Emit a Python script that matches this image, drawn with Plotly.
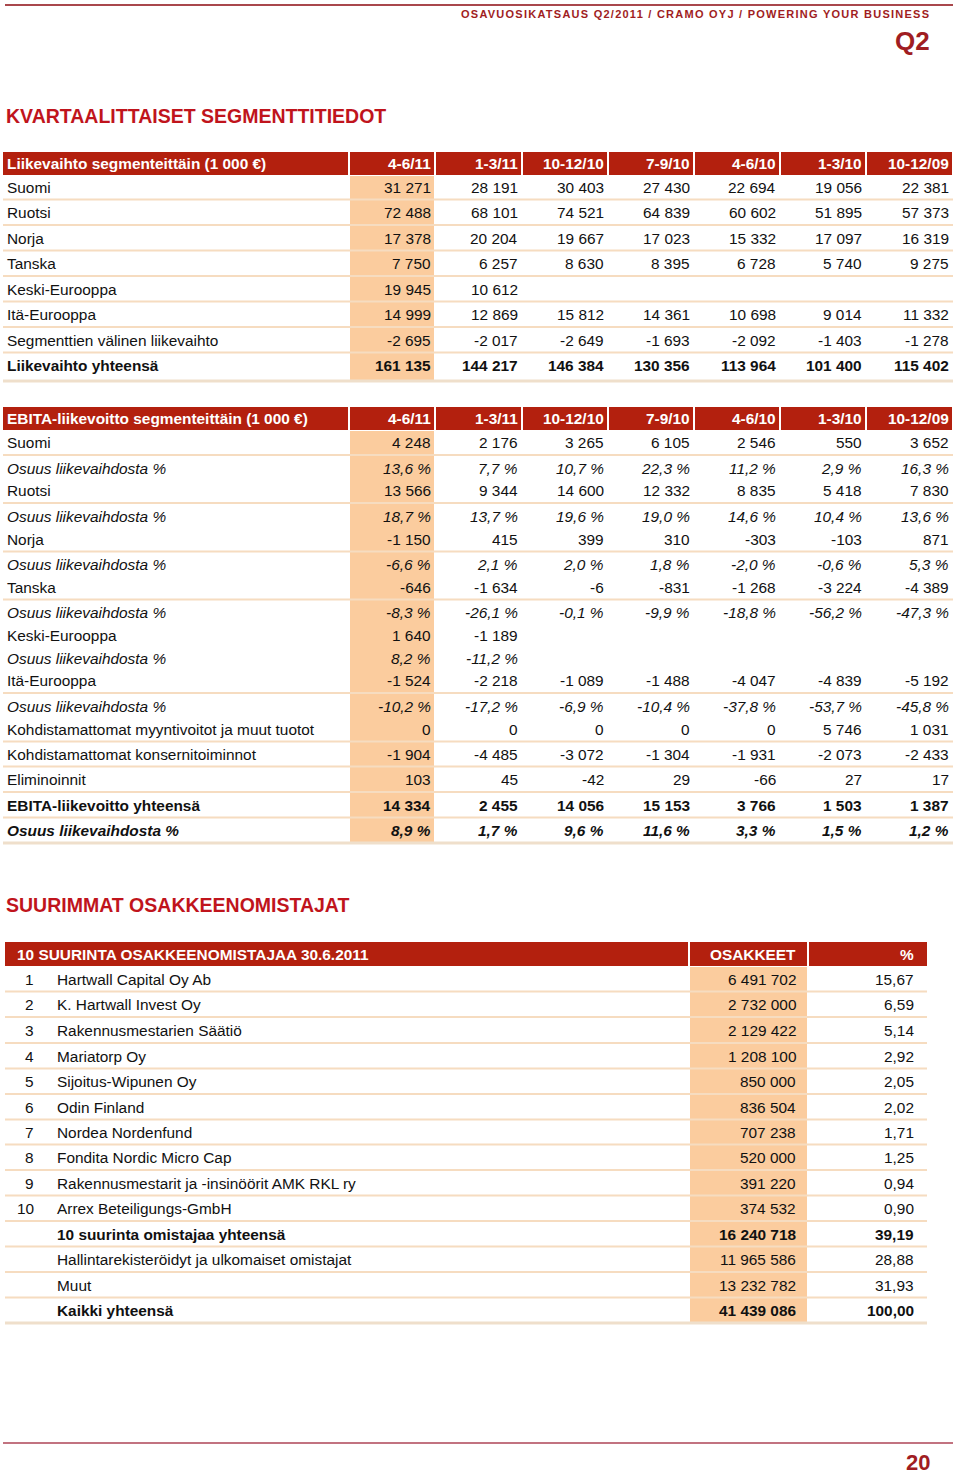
import plotly.graph_objects as go

# ---------------- DATA ----------------
doc_header = "OSAVUOSIKATSAUS Q2/2011 / CRAMO OYJ / POWERING YOUR BUSINESS"
doc_quarter = "Q2"
page_number = "20"
title_segments = "KVARTAALITTAISET SEGMENTTITIEDOT"
title_owners = "SUURIMMAT OSAKKEENOMISTAJAT"

periods = ["4-6/11", "1-3/11", "10-12/10", "7-9/10", "4-6/10", "1-3/10", "10-12/09"]

sales_title = "Liikevaihto segmenteittäin (1 000 €)"
sales_labels = ["Suomi", "Ruotsi", "Norja", "Tanska", "Keski-Eurooppa", "Itä-Eurooppa",
                "Segmenttien välinen liikevaihto", "Liikevaihto yhteensä"]
sales_suomi = [31271, 28191, 30403, 27430, 22694, 19056, 22381]
sales_ruotsi = [72488, 68101, 74521, 64839, 60602, 51895, 57373]
sales_norja = [17378, 20204, 19667, 17023, 15332, 17097, 16319]
sales_tanska = [7750, 6257, 8630, 8395, 6728, 5740, 9275]
sales_keski = [19945, 10612, None, None, None, None, None]
sales_ita = [14999, 12869, 15812, 14361, 10698, 9014, 11332]
sales_inter = [-2695, -2017, -2649, -1693, -2092, -1403, -1278]
sales_total = [161135, 144217, 146384, 130356, 113964, 101400, 115402]

ebita_title = "EBITA-liikevoitto segmenteittäin (1 000 €)"
ebita_labels = ["Suomi", "Osuus liikevaihdosta %", "Ruotsi", "Osuus liikevaihdosta %",
                "Norja", "Osuus liikevaihdosta %", "Tanska", "Osuus liikevaihdosta %",
                "Keski-Eurooppa", "Osuus liikevaihdosta %", "Itä-Eurooppa", "Osuus liikevaihdosta %",
                "Kohdistamattomat myyntivoitot ja muut tuotot", "Kohdistamattomat konsernitoiminnot",
                "Eliminoinnit", "EBITA-liikevoitto yhteensä", "Osuus liikevaihdosta %"]
ebita_suomi = [4248, 2176, 3265, 6105, 2546, 550, 3652]
pct_suomi = [13.6, 7.7, 10.7, 22.3, 11.2, 2.9, 16.3]
ebita_ruotsi = [13566, 9344, 14600, 12332, 8835, 5418, 7830]
pct_ruotsi = [18.7, 13.7, 19.6, 19.0, 14.6, 10.4, 13.6]
ebita_norja = [-1150, 415, 399, 310, -303, -103, 871]
pct_norja = [-6.6, 2.1, 2.0, 1.8, -2.0, -0.6, 5.3]
ebita_tanska = [-646, -1634, -6, -831, -1268, -3224, -4389]
pct_tanska = [-8.3, -26.1, -0.1, -9.9, -18.8, -56.2, -47.3]
ebita_keski = [1640, -1189, None, None, None, None, None]
pct_keski = [8.2, -11.2, None, None, None, None, None]
ebita_ita = [-1524, -2218, -1089, -1488, -4047, -4839, -5192]
pct_ita = [-10.2, -17.2, -6.9, -10.4, -37.8, -53.7, -45.8]
ebita_unalloc_gains = [0, 0, 0, 0, 0, 5746, 1031]
ebita_group = [-1904, -4485, -3072, -1304, -1931, -2073, -2433]
ebita_elim = [103, 45, -42, 29, -66, 27, 17]
ebita_total = [14334, 2455, 14056, 15153, 3766, 1503, 1387]
pct_total = [8.9, 1.7, 9.6, 11.6, 3.3, 1.5, 1.2]

owners_title = "10 SUURINTA OSAKKEENOMISTAJAA 30.6.2011"
owners_col_shares = "OSAKKEET"
owners_col_pct = "%"
owner_ranks = ["1", "2", "3", "4", "5", "6", "7", "8", "9", "10", "", "", "", ""]
owner_names = ["Hartwall Capital Oy Ab", "K. Hartwall Invest Oy", "Rakennusmestarien Säätiö",
               "Mariatorp Oy", "Sijoitus-Wipunen Oy", "Odin Finland", "Nordea Nordenfund",
               "Fondita Nordic Micro Cap", "Rakennusmestarit ja -insinöörit AMK RKL ry",
               "Arrex Beteiligungs-GmbH", "10 suurinta omistajaa yhteensä",
               "Hallintarekisteröidyt ja ulkomaiset omistajat", "Muut", "Kaikki yhteensä"]
owner_shares = [6491702, 2732000, 2129422, 1208100, 850000, 836504, 707238, 520000,
                391220, 374532, 16240718, 11965586, 13232782, 41439086]
owner_pct = [15.67, 6.59, 5.14, 2.92, 2.05, 2.02, 1.71, 1.25, 0.94, 0.90,
             39.19, 28.88, 31.93, 100.00]

# ---------------- STYLE / LAYOUT ----------------
FONT = "Liberation Sans, Arial, sans-serif"
RED_HDR = "#b3200e"
PEACH = "#fbcc9e"
LINE = "#f6dcc0"
TITLE_RED = "#c0141c"
DARK_RED = "#a01d22"
TXT = "#111111"
FS = 15.4

fig = go.Figure()
shapes = []
annotations = []


def fmt_int(v):
    if v is None:
        return ""
    return f"{v:,}".replace(",", " ")


def fmt_pct(v):
    if v is None:
        return ""
    return f"{v:.1f}".replace(".", ",") + " %"


def fmt_dec2(v):
    return f"{v:.2f}".replace(".", ",")


def rect(x0, y0, x1, y1, color):
    shapes.append(dict(type="rect", xref="x", yref="y", x0=x0, y0=y0, x1=x1, y1=y1,
                       fillcolor=color, line=dict(width=0), layer="below"))


def hline(x0, x1, y, color, w=2):
    shapes.append(dict(type="line", xref="x", yref="y", x0=x0, x1=x1, y0=y, y1=y,
                       line=dict(color=color, width=w), layer="below"))


def text(x, y, s, anchor="left", size=FS, color=TXT, bold=False, italic=False):
    if s == "":
        return
    if italic:
        s = f"<i>{s}</i>"
    if bold:
        s = f"<b>{s}</b>"
    annotations.append(dict(x=x, y=y, xref="x", yref="y", text=s, showarrow=False,
                            xanchor=anchor, yanchor="middle", borderpad=0,
                            font=dict(family=FONT, size=size, color=color)))


# page frame
hline(5, 953, 5, "#a9474c", 2)
hline(3, 953, 1443, "#c27380", 2)
text(931, 14, f'<span style="letter-spacing:1.25px">{doc_header}</span>', "right", 11, DARK_RED, bold=True)
text(931, 41, doc_quarter, "right", 26, DARK_RED, bold=True)
text(931, 1462, page_number, "right", 22, DARK_RED, bold=True)

# section titles
text(5, 116, title_segments, "left", 19.5, TITLE_RED, bold=True)
text(5, 905, title_owners, "left", 19.5, TITLE_RED, bold=True)

# ---- segment tables geometry
col_edges = [349, 435, 522, 608, 694, 780, 866, 953]
tx0 = 3


def segment_table(hdr_top, hdr_bot, title, labels, rows, row_y, line_after, bottom_y,
                  styles):
    # header
    rect(tx0, hdr_top, col_edges[0] - 1, hdr_bot, RED_HDR)
    for i in range(len(periods)):
        rect(col_edges[i] + 1, hdr_top, col_edges[i + 1] - 1, hdr_bot, RED_HDR)
    hy = (hdr_top + hdr_bot) / 2
    text(tx0 + 3, hy, title, "left", FS, "white", bold=True)
    for i, p in enumerate(periods):
        text(col_edges[i + 1] - 3, hy, p, "right", FS, "white", bold=True)
    # highlighted first column
    rect(col_edges[0] + 1, hdr_bot + 1, col_edges[1] - 1, bottom_y, PEACH)
    # separators
    for i in line_after:
        ymid = (row_y[i] + row_y[i + 1]) / 2
        hline(tx0, col_edges[-1], ymid, LINE, 2)
    hline(tx0, col_edges[-1], bottom_y, "#efdfcb", 3)
    # rows
    for r, (lab, vals, st) in enumerate(zip(labels, rows, styles)):
        kind, bold, italic = st
        text(tx0 + 3, row_y[r], lab, "left", FS, TXT, bold, italic)
        for i, v in enumerate(vals):
            s = fmt_pct(v) if kind == "pct" else fmt_int(v)
            text(col_edges[i + 1] - 3, row_y[r], s, "right", FS, TXT, bold, italic)


sales_rows = [sales_suomi, sales_ruotsi, sales_norja, sales_tanska, sales_keski,
              sales_ita, sales_inter, sales_total]
sales_y = [187, 212, 238, 263, 289, 314, 340, 365]
sales_styles = [("int", False, False)] * 7 + [("int", True, False)]
segment_table(152, 175, sales_title, sales_labels, sales_rows, sales_y,
              list(range(7)), 381, sales_styles)

ebita_rows = [ebita_suomi, pct_suomi, ebita_ruotsi, pct_ruotsi, ebita_norja, pct_norja,
              ebita_tanska, pct_tanska, ebita_keski, pct_keski, ebita_ita, pct_ita,
              ebita_unalloc_gains, ebita_group, ebita_elim, ebita_total, pct_total]
ebita_y = [442, 468, 490, 516, 539, 564, 587, 612, 635, 658, 680, 706, 729, 754, 779, 805, 830]
ebita_styles = []
for lab, rows_ in zip(ebita_labels, ebita_rows):
    ebita_styles.append(("pct", False, True) if lab.startswith("Osuus") else ("int", False, False))
ebita_styles[15] = ("int", True, False)
ebita_styles[16] = ("pct", True, True)
ebita_lines = [i for i in range(len(ebita_y) - 1) if ebita_y[i + 1] - ebita_y[i] >= 25]
segment_table(407, 430, ebita_title, ebita_labels, ebita_rows, ebita_y,
              ebita_lines, 843, ebita_styles)

# ---- owners table
ox0, ox_shares0, ox_shares1, ox_pct1 = 5, 689, 808, 927
rect(ox0, 942, ox_shares0 - 1, 966, RED_HDR)
rect(ox_shares0 + 1, 942, ox_shares1 - 1, 966, RED_HDR)
rect(ox_shares1 + 1, 942, ox_pct1, 966, RED_HDR)
text(16, 954, owners_title, "left", FS, "white", bold=True)
text(797, 954, owners_col_shares, "right", FS, "white", bold=True)
text(915, 954, owners_col_pct, "right", FS, "white", bold=True)
owner_y = [979, 1004, 1030, 1056, 1081, 1107, 1132, 1157, 1183, 1208, 1234, 1259, 1285, 1310]
rect(ox_shares0 + 1, 967, ox_shares1 - 1, 1322, PEACH)
for i in range(len(owner_y) - 1):
    hline(ox0, ox_pct1, (owner_y[i] + owner_y[i + 1]) / 2, LINE, 2)
hline(ox0, ox_pct1, 1323, "#efdfcb", 3)
for r, (rk, nm, sh, pc) in enumerate(zip(owner_ranks, owner_names, owner_shares, owner_pct)):
    bold = nm in ("10 suurinta omistajaa yhteensä", "Kaikki yhteensä")
    text(35, owner_y[r], rk, "right", FS, TXT)
    text(56, owner_y[r], nm, "left", FS, TXT, bold)
    text(797, owner_y[r], fmt_int(sh), "right", FS, TXT, bold)
    text(915, owner_y[r], fmt_dec2(pc), "right", FS, TXT, bold)

fig.update_layout(
    width=960, height=1476,
    margin=dict(l=0, r=0, t=0, b=0),
    paper_bgcolor="white", plot_bgcolor="white",
    xaxis=dict(range=[0, 960], visible=False, fixedrange=True),
    yaxis=dict(range=[1476, 0], visible=False, fixedrange=True),
    shapes=shapes, annotations=annotations, showlegend=False,
)

fig.write_html("out.html", config={"displayModeBar": False},
               post_script="document.body.style.margin='0';document.body.style.overflow='hidden';")
